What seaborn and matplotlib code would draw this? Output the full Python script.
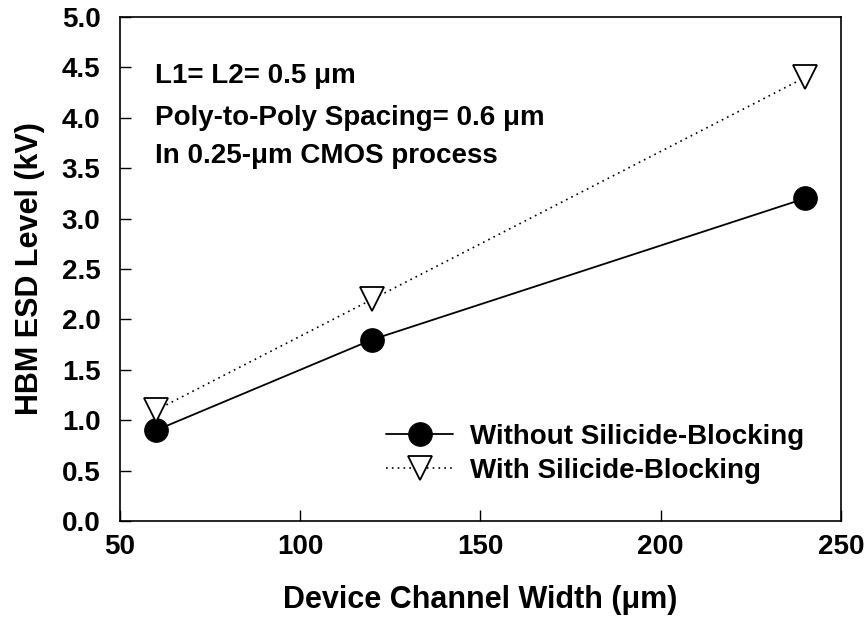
import matplotlib
matplotlib.use("Agg")
import matplotlib.pyplot as plt
import seaborn as sns
import pandas as pd

width = [60, 120, 240]
without_sb = [0.9, 1.8, 3.2]
with_sb = [1.1, 2.2, 4.4]
label_without = "Without Silicide-Blocking"
label_with = "With Silicide-Blocking"
x_ticks = [50, 100, 150, 200, 250]
y_ticks = [0.0, 0.5, 1.0, 1.5, 2.0, 2.5, 3.0, 3.5, 4.0, 4.5, 5.0]
notes = ["L1= L2= 0.5 μm", "Poly-to-Poly Spacing= 0.6 μm", "In 0.25-μm CMOS process"]

sns.set_theme(style="white")
plt.rcParams['font.family'] = ['Liberation Sans', 'DejaVu Sans']
plt.rcParams['font.weight'] = 'bold'
for k in ['text.color', 'axes.labelcolor', 'xtick.color', 'ytick.color', 'axes.edgecolor']:
    plt.rcParams[k] = 'black'

fig = plt.figure(figsize=(8.68, 6.3), dpi=100)
ax = fig.add_axes([0.1382, 0.173, 0.9689 - 0.1382, 0.973 - 0.173])

df1 = pd.DataFrame({"x": width, "y": without_sb})
df2 = pd.DataFrame({"x": width, "y": with_sb})

sns.lineplot(data=df1, x="x", y="y", ax=ax, color="black", lw=1.3,
             marker="o", markersize=17, markerfacecolor="black",
             markeredgecolor="black", label=label_without)
sns.lineplot(data=df2, x="x", y="y", ax=ax, color="black", lw=1.2,
             linestyle=(0, (1, 2.5)), marker="v", markersize=17,
             markerfacecolor="white", markeredgecolor="black",
             markeredgewidth=1.3, label=label_with)

ax.set_xlim(50, 250)
ax.set_ylim(0, 5)
ax.set_xticks(x_ticks)
ax.set_yticks(y_ticks)
ax.set_xticklabels([str(v) for v in x_ticks], fontsize=20, fontweight='bold')
ax.set_yticklabels([f"{v:.1f}" for v in y_ticks], fontsize=20, fontweight='bold')
ax.tick_params(axis='both', direction='in', length=8, width=1, color='black',
               bottom=True, left=True, top=False, right=False)
ax.tick_params(axis='x', pad=9)
ax.tick_params(axis='y', pad=14)
for s in ax.spines.values():
    s.set_color('black')
    s.set_linewidth(1.2)

ax.set_xlabel("Device Channel Width (μm)", fontsize=22, fontweight='bold', labelpad=18)
ax.set_ylabel("HBM ESD Level (kV)", fontsize=22, fontweight='bold', labelpad=12)

for ypos, txt in zip([0.869, 0.786, 0.710], notes):
    ax.text(0.0485, ypos, txt, transform=ax.transAxes, fontsize=20,
            fontweight='bold', va='baseline')

leg = ax.legend(loc='lower right', bbox_to_anchor=(0.983, 0.024), frameon=False,
                prop={'size': 20, 'weight': 'bold'}, handlelength=2.4,
                handletextpad=0.6, labelspacing=0.3)

fig.savefig("out.png", dpi=100)
